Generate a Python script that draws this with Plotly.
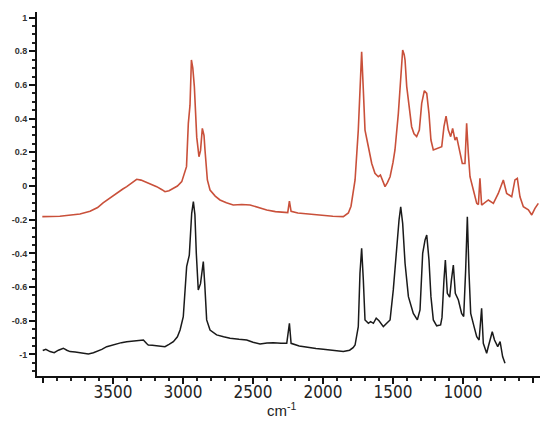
import plotly.graph_objects as go

# Red (upper) spectrum: wavenumber (cm-1) and absorbance
red_wn = [4005, 3950, 3880, 3800, 3736, 3664, 3610, 3571, 3520, 3474, 3430, 3402, 3360, 3331,
          3300, 3271, 3230, 3188, 3150, 3129, 3100, 3069, 3040, 3009, 2990, 2975, 2962, 2950,
          2940, 2930, 2919, 2910, 2902, 2886, 2875, 2862, 2850, 2843, 2826, 2807, 2770, 2736,
          2690, 2641, 2580, 2521, 2460, 2402, 2340, 2284, 2252, 2240, 2228, 2180, 2116, 2050,
          1998, 1930, 1855, 1819, 1800, 1771, 1748, 1736, 1724, 1712, 1700, 1676, 1652, 1629,
          1605, 1590, 1574, 1557, 1540, 1521, 1500, 1486, 1462, 1445, 1431, 1420, 1414, 1402,
          1383, 1367, 1350, 1331, 1312, 1295, 1276, 1259, 1243, 1229, 1212, 1176, 1152, 1136,
          1121, 1105, 1088, 1074, 1057, 1045, 1021, 1005, 986, 974, 962, 950, 926, 902, 890,
          879, 867, 845, 819, 783, 748, 712, 688, 652, 629, 612, 593, 569, 533, 509, 486, 462]
red_abs = [-0.182, -0.181, -0.180, -0.172, -0.166, -0.150, -0.128, -0.100, -0.070, -0.040,
           -0.018, -0.004, 0.020, 0.040, 0.035, 0.026, 0.012, -0.004, -0.022, -0.034, -0.028,
           -0.014, 0.000, 0.026, 0.070, 0.115, 0.372, 0.480, 0.748, 0.700, 0.590, 0.450, 0.290,
           0.174, 0.210, 0.342, 0.300, 0.214, 0.036, -0.024, -0.060, -0.083, -0.100, -0.113,
           -0.110, -0.113, -0.128, -0.142, -0.152, -0.158, -0.158, -0.090, -0.150, -0.160,
           -0.166, -0.172, -0.178, -0.180, -0.182, -0.160, -0.120, 0.036, 0.332, 0.590, 0.797,
           0.570, 0.332, 0.233, 0.134, 0.075, 0.055, 0.065, 0.036, -0.004, 0.020, 0.055, 0.140,
           0.214, 0.430, 0.650, 0.807, 0.780, 0.748, 0.590, 0.450, 0.352, 0.310, 0.293, 0.332,
           0.490, 0.566, 0.550, 0.430, 0.273, 0.214, 0.224, 0.233, 0.352, 0.415, 0.332, 0.293,
           0.342, 0.273, 0.290, 0.194, 0.134, 0.134, 0.372, 0.194, 0.055, -0.024, -0.103,
           -0.110, 0.045, -0.113, -0.100, -0.083, -0.103, -0.044, 0.036, -0.044, -0.064, 0.036,
           0.045, -0.064, -0.123, -0.142, -0.172, -0.133, -0.103]

# Black (lower) spectrum
black_wn = [4002, 3980, 3950, 3920, 3890, 3855, 3830, 3807, 3770, 3736, 3700, 3676, 3640, 3617,
            3580, 3545, 3510, 3474, 3440, 3402, 3360, 3331, 3300, 3283, 3260, 3248, 3220, 3188,
            3160, 3129, 3100, 3069, 3040, 3021, 2998, 2986, 2974, 2955, 2938, 2926, 2915, 2905,
            2891, 2875, 2855, 2845, 2831, 2807, 2760, 2710, 2664, 2600, 2545, 2500, 2450, 2400,
            2355, 2300, 2259, 2240, 2228, 2170, 2116, 2050, 1998, 1930, 1879, 1855, 1810, 1785,
            1771, 1748, 1736, 1724, 1712, 1700, 1676, 1660, 1640, 1620, 1600, 1569, 1545, 1521,
            1498, 1474, 1457, 1445, 1431, 1414, 1390, 1355, 1326, 1307, 1288, 1271, 1259, 1243,
            1229, 1212, 1188, 1160, 1150, 1136, 1126, 1112, 1095, 1083, 1069, 1055, 1033, 1010,
            995, 981, 969, 957, 945, 921, 902, 885, 867, 855, 831, 819, 791, 775, 752, 735, 717,
            700]
black_abs = [-0.977, -0.970, -0.983, -0.990, -0.975, -0.963, -0.975, -0.983, -0.985, -0.990,
             -0.993, -0.997, -0.990, -0.983, -0.970, -0.954, -0.945, -0.938, -0.930, -0.924,
             -0.920, -0.918, -0.916, -0.914, -0.935, -0.944, -0.946, -0.948, -0.950, -0.954,
             -0.940, -0.924, -0.895, -0.855, -0.776, -0.617, -0.479, -0.410, -0.162, -0.093,
             -0.170, -0.400, -0.617, -0.580, -0.449, -0.578, -0.795, -0.855, -0.884, -0.895,
             -0.904, -0.910, -0.914, -0.928, -0.938, -0.932, -0.930, -0.933, -0.934, -0.815,
             -0.934, -0.950, -0.958, -0.965, -0.969, -0.975, -0.977, -0.983, -0.975, -0.960,
             -0.944, -0.835, -0.518, -0.370, -0.558, -0.795, -0.815, -0.805, -0.815, -0.785,
             -0.800, -0.835, -0.815, -0.795, -0.617, -0.360, -0.202, -0.123, -0.222, -0.459,
             -0.657, -0.756, -0.795, -0.736, -0.400, -0.320, -0.291, -0.439, -0.657, -0.795,
             -0.830, -0.825, -0.780, -0.558, -0.439, -0.637, -0.660, -0.560, -0.469, -0.637,
             -0.677, -0.756, -0.775, -0.498, -0.182, -0.518, -0.756, -0.835, -0.894, -0.914,
             -0.726, -0.934, -0.993, -0.953, -0.865, -0.914, -0.954, -0.924, -1.013, -1.052]

x_tickvals = [3500, 3000, 2500, 2000, 1500, 1000]
x_ticktext = ["3500", "3000", "2500", "2000", "1500", "1000"]
x_endticks = [4000, 500]
y_tickvals = [1, 0.8, 0.6, 0.4, 0.2, 0, -0.2, -0.4, -0.6, -0.8, -1]
y_ticktext = ["1", "0.8", "0.6", "0.4", "0.2", "0", "-0.2", "-0.4", "-0.6", "-0.8", "-1"]
x_title = "cm<sup>-1</sup>"

X_RANGE = [4043, 450]

fig = go.Figure()
fig.add_trace(go.Scatter(x=red_wn, y=red_abs, mode="lines",
                         line=dict(color="#c9503a", width=1.6), showlegend=False))
fig.add_trace(go.Scatter(x=black_wn, y=black_abs, mode="lines",
                         line=dict(color="#1a1a1a", width=1.5), showlegend=False))

# page body has an 8px default margin, so the figure is sized/offset to compensate
fig.update_layout(
    width=537, height=410,
    margin=dict(l=29, r=5, t=4, b=42),
    paper_bgcolor="white", plot_bgcolor="white",
    xaxis=dict(
        range=X_RANGE, showgrid=False, zeroline=False,
        showline=True, linecolor="#111", linewidth=2,
        ticks="outside", ticklen=6, tickwidth=2, tickcolor="#111",
        tickvals=x_tickvals, ticktext=x_ticktext,
        ticklabelstandoff=-6,
        tickfont=dict(family="Liberation Sans Narrow, Arial Narrow, DejaVu Sans Condensed, Liberation Sans",
                      size=17, color="#222"),
        minor=dict(dtick=100, ticks="outside", ticklen=3, tickwidth=1.5, tickcolor="#222"),
        automargin=False,
    ),
    xaxis2=dict(
        range=X_RANGE, overlaying="x", side="bottom", anchor="y",
        showgrid=False, zeroline=False, showline=False,
        ticks="outside", ticklen=6, tickwidth=2, tickcolor="#111",
        tickvals=x_endticks, showticklabels=False, automargin=False,
    ),
    yaxis=dict(
        range=[-1.128, 1.033], showgrid=False, zeroline=False,
        showline=True, linecolor="#111", linewidth=2,
        ticks="outside", ticklen=6, tickwidth=2, tickcolor="#111",
        tickvals=y_tickvals, ticktext=y_ticktext,
        ticklabeloverflow="allow",
        tickfont=dict(family="Liberation Sans", size=9, color="#333", weight="bold"),
        minor=dict(dtick=0.05, ticks="outside", ticklen=3, tickwidth=1.5, tickcolor="#222"),
        automargin=False,
    ),
    annotations=[dict(text=x_title, xref="paper", yref="paper", x=0.487, y=-0.093,
                      xanchor="center", yanchor="middle", showarrow=False,
                      font=dict(family="Liberation Sans", size=15, color="#222"))],
)
# invisible trace to activate the overlay axis carrying the 4000 / 500 end ticks
fig.add_trace(go.Scatter(x=[None], y=[None], xaxis="x2", mode="lines",
                         showlegend=False, hoverinfo="skip"))

fig.write_html("out.html")
